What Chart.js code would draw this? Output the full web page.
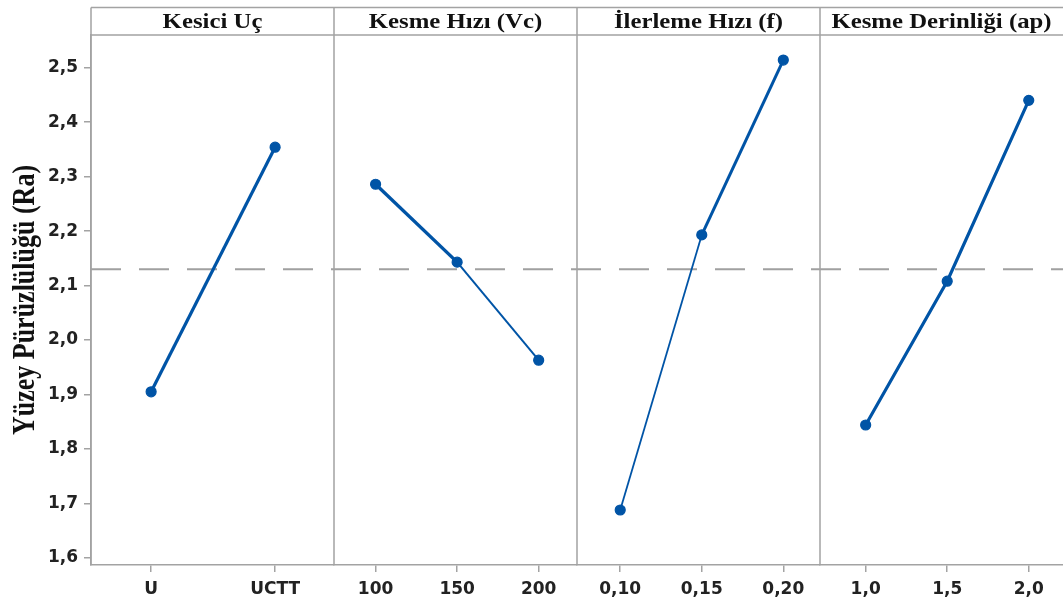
<!DOCTYPE html>
<html>
<head>
<meta charset="utf-8">
<script src="https://cdn.jsdelivr.net/npm/chart.js@4.4.0/dist/chart.umd.min.js"></script>
<style>
html,body{margin:0;padding:0;background:#fff;overflow:hidden;}
#wrap{width:1063px;height:601px;position:relative;}
</style>
</head>
<body>
<div id="wrap"><canvas id="c" width="1063" height="601"></canvas></div>
<script>
// ---- data ----
const panelTitles = ["Kesici Uç", "Kesme Hızı (Vc)", "İlerleme Hızı (f)", "Kesme Derinliği (ap)"];
const kesiciUcLevels = ["U", "UCTT"];
const kesiciUcMeans = [1.905, 2.354];
const kesmeHiziLevels = ["100", "150", "200"];
const kesmeHiziMeans = [2.286, 2.143, 1.963];
const ilerlemeLevels = ["0,10", "0,15", "0,20"];
const ilerlemeMeans = [1.688, 2.193, 2.514];
const derinlikLevels = ["1,0", "1,5", "2,0"];
const derinlikMeans = [1.844, 2.108, 2.440];
const grandMean = 2.130;
const yTickValues = [1.6, 1.7, 1.8, 1.9, 2.0, 2.1, 2.2, 2.3, 2.4, 2.5];
const yAxisTitle = "Yüzey Pürüzlülüğü (Ra)";

// ---- styling ----
const BLUE = "#0054a6";
const FRAME = "#a3a3a3";
const TICK_FONT = { family: "'DejaVu Sans', 'Open Sans', sans-serif", size: 17, weight: "bold" };
const SERIF = "'Liberation Serif', 'DejaVu Serif', serif";
const TEXT_STRETCH = 1.18;
const segmentWidths = [[3.2], [3.4, 2.0], [1.8, 3.0], [3.2, 3.2]];

const panels = [
  { levels: kesiciUcLevels, means: kesiciUcMeans, min: -0.485, max: 1.475 },
  { levels: kesmeHiziLevels, means: kesmeHiziMeans, min: -0.51, max: 2.47 },
  { levels: ilerlemeLevels, means: ilerlemeMeans, min: -0.53, max: 2.45 },
  { levels: derinlikLevels, means: derinlikMeans, min: -0.56, max: 2.42 }
];

const datasets = panels.map((p, i) => ({
  label: panelTitles[i],
  data: p.levels.map((_, j) => ({ x: j, y: p.means[j] })),
  xAxisID: "x" + i,
  yAxisID: "y",
  borderColor: BLUE,
  backgroundColor: BLUE,
  pointBackgroundColor: BLUE,
  pointBorderColor: BLUE,
  pointRadius: 5,
  pointBorderWidth: 1.2,
  borderWidth: 2.6,
  segment: { borderWidth: ctx => segmentWidths[i][ctx.p0DataIndex] },
  tension: 0,
  fill: false
}));

const scales = {
  y: {
    type: "linear",
    position: "left",
    min: 1.587,
    max: 2.56,
    afterBuildTicks: s => { s.ticks = yTickValues.map(v => ({ value: v })); },
    afterFit: s => { s.width = 91; },
    ticks: {
      callback: v => Number(v).toFixed(1).replace(".", ","),
      font: TICK_FONT,
      color: "#222",
      padding: 6
    },
    grid: { drawOnChartArea: false, drawTicks: true, tickLength: 7, color: FRAME, lineWidth: 1.5 },
    border: { display: true, color: FRAME, width: 1.5 },
    title: { display: false }
  }
};
panels.forEach((p, i) => {
  scales["x" + i] = {
    type: "linear",
    axis: "x",
    position: "bottom",
    stack: "panels",
    stackWeight: 1,
    min: p.min,
    max: p.max,
    afterBuildTicks: s => { s.ticks = p.levels.map((_, j) => ({ value: j })); },
    afterFit: s => { s.height = 36; s.paddingLeft = 0; s.paddingRight = 0; },
    ticks: {
      callback: v => p.levels[Math.round(v)],
      autoSkip: false,
      maxRotation: 0,
      font: TICK_FONT,
      color: "#222",
      padding: 7
    },
    grid: { drawOnChartArea: false, drawTicks: true, tickLength: 7, color: FRAME, lineWidth: 1.5 },
    border: { display: true, color: FRAME, width: 1.5 }
  };
});

const panelFrame = {
  id: "panelFrame",
  beforeDatasetsDraw(chart) {
    const ctx = chart.ctx, a = chart.chartArea;
    const y = chart.scales.y.getPixelForValue(grandMean);
    ctx.save();
    ctx.setLineDash([30, 18]);
    ctx.lineDashOffset = 0;
    ctx.strokeStyle = "#a0a0a0";
    ctx.lineWidth = 2;
    ctx.beginPath();
    ctx.moveTo(a.left, y);
    ctx.lineTo(a.right, y);
    ctx.stroke();
    ctx.restore();
  },
  afterDraw(chart) {
    const ctx = chart.ctx, a = chart.chartArea;
    const headerTop = 7.5;
    ctx.save();
    ctx.strokeStyle = FRAME;
    ctx.lineWidth = 1.5;
    ctx.beginPath();
    ctx.moveTo(a.left, headerTop); ctx.lineTo(a.right, headerTop);
    ctx.moveTo(a.left, a.top); ctx.lineTo(a.right, a.top);
    panels.forEach((p, i) => {
      const s = chart.scales["x" + i];
      ctx.moveTo(s.left, headerTop); ctx.lineTo(s.left, a.bottom);
      if (s.right < chart.width - 2) {
        ctx.moveTo(s.right, headerTop); ctx.lineTo(s.right, a.bottom);
      }
    });
    ctx.stroke();
    // panel headers
    ctx.fillStyle = "#111";
    ctx.font = "bold 21px " + SERIF;
    ctx.textAlign = "center";
    ctx.textBaseline = "alphabetic";
    panels.forEach((p, i) => {
      const s = chart.scales["x" + i];
      ctx.save();
      ctx.translate((s.left + s.right) / 2, 28);
      ctx.scale(TEXT_STRETCH, 1);
      ctx.fillText(panelTitles[i], 0, 0);
      ctx.restore();
    });
    // y axis title
    const yScale = chart.scales.y;
    ctx.save();
    ctx.translate(26, (yScale.top + yScale.bottom) / 2);
    ctx.rotate(-Math.PI / 2);
    ctx.scale(1, TEXT_STRETCH);
    ctx.font = "bold 26px " + SERIF;
    ctx.textAlign = "center";
    ctx.textBaseline = "middle";
    ctx.fillText(yAxisTitle, 0, 0);
    ctx.restore();
    ctx.restore();
  }
};

new Chart(document.getElementById("c"), {
  type: "line",
  data: { datasets },
  options: {
    responsive: false,
    animation: false,
    devicePixelRatio: 1,
    layout: { autoPadding: false, padding: { top: 35, left: 0, right: -1, bottom: 0 } },
    plugins: { legend: { display: false }, tooltip: { enabled: false }, title: { display: false } },
    scales
  },
  plugins: [panelFrame]
});
</script>
</body>
</html>
